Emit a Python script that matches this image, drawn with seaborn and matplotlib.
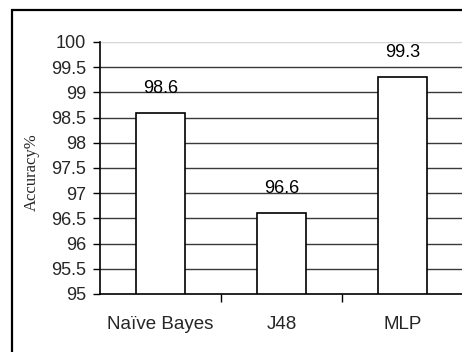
import matplotlib
matplotlib.use("Agg")
import matplotlib.pyplot as plt
from matplotlib.patches import Rectangle
from matplotlib.ticker import FixedLocator
import seaborn as sns
import pandas as pd

classifiers = ["Naïve Bayes", "J48", "MLP"]
accuracy = [98.6, 96.6, 99.3]
y_ticks = [95, 95.5, 96, 96.5, 97, 97.5, 98, 98.5, 99, 99.5, 100]
y_label = "Accuracy%"

sns.set_theme(style="white")
sans = ["Liberation Sans Narrow", "Liberation Sans", "DejaVu Sans"]
plt.rcParams["font.family"] = sans

W, H = 462, 352
fig = plt.figure(figsize=(W / 100, H / 100), dpi=100)
fig.patch.set_facecolor("white")

# outer chart frame (runs past the right and bottom edges)
fig.add_artist(Rectangle((12 / W, -0.1), 1.2, 1 - 10 / H + 0.1,
                         transform=fig.transFigure, fill=False,
                         edgecolor="black", linewidth=1.6, zorder=0))

ax = fig.add_axes([100 / W, (H - 294) / H, 363 / W, 252 / H])
ax.set_facecolor("none")

df = pd.DataFrame({"clf": classifiers, "acc": accuracy})
sns.barplot(data=df, x="clf", y="acc", ax=ax, color="white",
            edgecolor="black", linewidth=1.2, width=0.41, zorder=3)

ax.set_ylim(95, 100)
ax.set_xlim(-0.5, 2.5)

# horizontal gridlines
for t in y_ticks[1:-1]:
    ax.axhline(t, color="#3a3a3a", linewidth=1.0, zorder=1)
ax.axhline(100, color="#d6d6d6", linewidth=1.0, zorder=1)

ax.set_yticks(y_ticks)
ax.set_yticklabels([f"{t:g}" for t in y_ticks])
ax.tick_params(axis="y", which="major", direction="out", length=5, width=1,
               color="black", labelsize=13, pad=5, left=True)

ax.xaxis.set_minor_locator(FixedLocator([0.5, 1.5]))
ax.tick_params(axis="x", which="major", length=0, labelsize=13.5, pad=16)
ax.tick_params(axis="x", which="minor", direction="out", length=6, width=1,
               color="black", bottom=True)

for s in ["top", "right"]:
    ax.spines[s].set_visible(False)
for s in ["left", "bottom"]:
    ax.spines[s].set_color("black")
    ax.spines[s].set_linewidth(1.2)
    ax.spines[s].set_zorder(4)

ax.set_xlabel("")
ax.set_ylabel(y_label, family=["Liberation Serif", "DejaVu Serif"],
              fontsize=12)
ax.yaxis.set_label_coords(-0.165, 0.484)

for i, v in enumerate(accuracy):
    ax.annotate(f"{v}", xy=(i, v), xytext=(0, 14.4),
                textcoords="offset points", ha="center", va="baseline",
                fontsize=13, color="black", zorder=5)

fig.savefig("out.png", dpi=100, facecolor="white")
